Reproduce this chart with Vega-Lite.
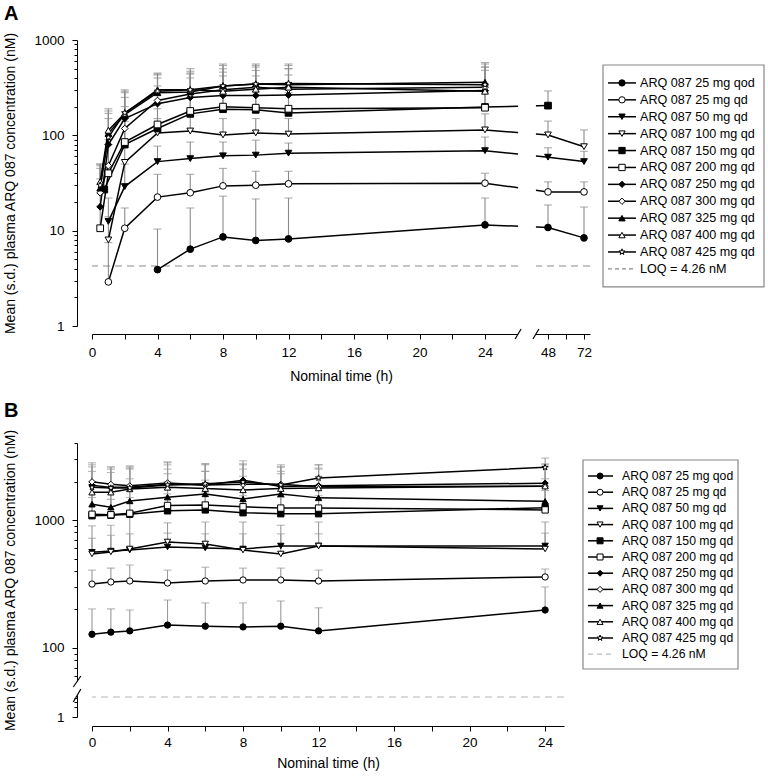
{
"$schema": "https://vega.github.io/schema/vega-lite/v6.json",
"padding": {"left": 3, "top": 4, "right": 1, "bottom": 2},
"config": {
 "font": "Liberation Sans",
 "view": {"stroke": null},
 "axis": {"labelFont": "Liberation Sans", "titleFont": "Liberation Sans", "labelFontSize": 13.5, "titleFontSize": 14, "titleFontWeight": "normal", "labelColor": "#000", "titleColor": "#000", "domainColor": "#000", "tickColor": "#000", "grid": false, "labelOverlap": false, "labelFlush": false},
 "title": {"font": "Liberation Sans"}
},
"datasets": {
 "leg": [
  {"s": "ARQ 087 25 mg qod", "k": "m", "i": 0}, {"s": "ARQ 087 25 mg qd", "k": "m", "i": 1}, {"s": "ARQ 087 50 mg qd", "k": "m", "i": 2}, {"s": "ARQ 087 100 mg qd", "k": "m", "i": 3}, {"s": "ARQ 087 150 mg qd", "k": "m", "i": 4}, {"s": "ARQ 087 200 mg qd", "k": "m", "i": 5}, {"s": "ARQ 087 250 mg qd", "k": "m", "i": 6}, {"s": "ARQ 087 300 mg qd", "k": "m", "i": 7}, {"s": "ARQ 087 325 mg qd", "k": "m", "i": 8}, {"s": "ARQ 087 400 mg qd", "k": "m", "i": 9}, {"s": "ARQ 087 425 mg qd", "k": "m", "i": 10}, {"s": "LOQ = 4.26 nM", "k": "l", "i": 11}
 ],
 "pk": [
  {"p":"A","s":"ARQ 087 25 mg qod","t":4,"m":3.9,"u":10.4},
  {"p":"A","s":"ARQ 087 25 mg qod","t":6,"m":6.4,"u":17.3},
  {"p":"A","s":"ARQ 087 25 mg qod","t":8,"m":8.6,"u":23},
  {"p":"A","s":"ARQ 087 25 mg qod","t":10,"m":7.9,"u":21.5},
  {"p":"A","s":"ARQ 087 25 mg qod","t":12,"m":8.2,"u":22},
  {"p":"A","s":"ARQ 087 25 mg qod","t":24,"m":11.5,"u":22},
  {"p":"A","s":"ARQ 087 25 mg qod","t":48,"m":10.8,"u":18.6},
  {"p":"A","s":"ARQ 087 25 mg qod","t":72,"m":8.4,"u":17.7},
  {"p":"A","s":"ARQ 087 25 mg qd","t":1,"m":2.9,"u":7.5},
  {"p":"A","s":"ARQ 087 25 mg qd","t":2,"m":10.6,"u":17.3},
  {"p":"A","s":"ARQ 087 25 mg qd","t":4,"m":22.5,"u":39},
  {"p":"A","s":"ARQ 087 25 mg qd","t":6,"m":25,"u":39},
  {"p":"A","s":"ARQ 087 25 mg qd","t":8,"m":29.5,"u":45},
  {"p":"A","s":"ARQ 087 25 mg qd","t":10,"m":30,"u":42},
  {"p":"A","s":"ARQ 087 25 mg qd","t":12,"m":31,"u":42},
  {"p":"A","s":"ARQ 087 25 mg qd","t":24,"m":31.5,"u":40},
  {"p":"A","s":"ARQ 087 25 mg qd","t":48,"m":25.5,"u":32.5},
  {"p":"A","s":"ARQ 087 25 mg qd","t":72,"m":25.5,"u":32.5},
  {"p":"A","s":"ARQ 087 50 mg qd","t":1,"m":12.5,"u":22},
  {"p":"A","s":"ARQ 087 50 mg qd","t":2,"m":29,"u":50},
  {"p":"A","s":"ARQ 087 50 mg qd","t":4,"m":53,"u":77},
  {"p":"A","s":"ARQ 087 50 mg qd","t":6,"m":57,"u":85},
  {"p":"A","s":"ARQ 087 50 mg qd","t":8,"m":61,"u":85},
  {"p":"A","s":"ARQ 087 50 mg qd","t":10,"m":62,"u":89},
  {"p":"A","s":"ARQ 087 50 mg qd","t":12,"m":65,"u":83},
  {"p":"A","s":"ARQ 087 50 mg qd","t":24,"m":69,"u":96},
  {"p":"A","s":"ARQ 087 50 mg qd","t":48,"m":59,"u":74},
  {"p":"A","s":"ARQ 087 50 mg qd","t":72,"m":53,"u":68},
  {"p":"A","s":"ARQ 087 100 mg qd","t":1,"m":8,"u":14},
  {"p":"A","s":"ARQ 087 100 mg qd","t":2,"m":52,"u":90},
  {"p":"A","s":"ARQ 087 100 mg qd","t":4,"m":106,"u":150},
  {"p":"A","s":"ARQ 087 100 mg qd","t":6,"m":111,"u":160},
  {"p":"A","s":"ARQ 087 100 mg qd","t":8,"m":101,"u":150},
  {"p":"A","s":"ARQ 087 100 mg qd","t":10,"m":106,"u":150},
  {"p":"A","s":"ARQ 087 100 mg qd","t":12,"m":103,"u":150},
  {"p":"A","s":"ARQ 087 100 mg qd","t":24,"m":114,"u":168},
  {"p":"A","s":"ARQ 087 100 mg qd","t":48,"m":101,"u":141},
  {"p":"A","s":"ARQ 087 100 mg qd","t":72,"m":76,"u":114},
  {"p":"A","s":"ARQ 087 150 mg qd","t":0.75,"m":27,"u":45},
  {"p":"A","s":"ARQ 087 150 mg qd","t":2,"m":80,"u":140},
  {"p":"A","s":"ARQ 087 150 mg qd","t":4,"m":118,"u":190},
  {"p":"A","s":"ARQ 087 150 mg qd","t":6,"m":168,"u":270},
  {"p":"A","s":"ARQ 087 150 mg qd","t":8,"m":188,"u":290},
  {"p":"A","s":"ARQ 087 150 mg qd","t":10,"m":185,"u":285},
  {"p":"A","s":"ARQ 087 150 mg qd","t":12,"m":172,"u":280},
  {"p":"A","s":"ARQ 087 150 mg qd","t":24,"m":198,"u":280},
  {"p":"A","s":"ARQ 087 150 mg qd","t":48,"m":205,"u":292},
  {"p":"A","s":"ARQ 087 200 mg qd","t":0.5,"m":10.6,"u":18},
  {"p":"A","s":"ARQ 087 200 mg qd","t":1,"m":40,"u":80},
  {"p":"A","s":"ARQ 087 200 mg qd","t":2,"m":85,"u":150},
  {"p":"A","s":"ARQ 087 200 mg qd","t":4,"m":130,"u":220},
  {"p":"A","s":"ARQ 087 200 mg qd","t":6,"m":180,"u":300},
  {"p":"A","s":"ARQ 087 200 mg qd","t":8,"m":200,"u":320},
  {"p":"A","s":"ARQ 087 200 mg qd","t":10,"m":195,"u":310},
  {"p":"A","s":"ARQ 087 200 mg qd","t":12,"m":190,"u":300},
  {"p":"A","s":"ARQ 087 200 mg qd","t":24,"m":195,"u":290},
  {"p":"A","s":"ARQ 087 250 mg qd","t":0.5,"m":17.8,"u":35},
  {"p":"A","s":"ARQ 087 250 mg qd","t":1,"m":80,"u":150},
  {"p":"A","s":"ARQ 087 250 mg qd","t":2,"m":150,"u":250},
  {"p":"A","s":"ARQ 087 250 mg qd","t":4,"m":215,"u":330},
  {"p":"A","s":"ARQ 087 250 mg qd","t":6,"m":250,"u":400},
  {"p":"A","s":"ARQ 087 250 mg qd","t":8,"m":262,"u":420},
  {"p":"A","s":"ARQ 087 250 mg qd","t":10,"m":262,"u":420},
  {"p":"A","s":"ARQ 087 250 mg qd","t":12,"m":265,"u":430},
  {"p":"A","s":"ARQ 087 250 mg qd","t":24,"m":295,"u":480},
  {"p":"A","s":"ARQ 087 300 mg qd","t":0.5,"m":25,"u":45},
  {"p":"A","s":"ARQ 087 300 mg qd","t":1,"m":48,"u":90},
  {"p":"A","s":"ARQ 087 300 mg qd","t":2,"m":118,"u":200},
  {"p":"A","s":"ARQ 087 300 mg qd","t":4,"m":232,"u":400},
  {"p":"A","s":"ARQ 087 300 mg qd","t":6,"m":272,"u":450},
  {"p":"A","s":"ARQ 087 300 mg qd","t":8,"m":300,"u":500},
  {"p":"A","s":"ARQ 087 300 mg qd","t":10,"m":320,"u":520},
  {"p":"A","s":"ARQ 087 300 mg qd","t":12,"m":305,"u":500},
  {"p":"A","s":"ARQ 087 300 mg qd","t":24,"m":320,"u":560},
  {"p":"A","s":"ARQ 087 325 mg qd","t":0.5,"m":28,"u":50},
  {"p":"A","s":"ARQ 087 325 mg qd","t":1,"m":105,"u":180},
  {"p":"A","s":"ARQ 087 325 mg qd","t":2,"m":165,"u":280},
  {"p":"A","s":"ARQ 087 325 mg qd","t":4,"m":280,"u":430},
  {"p":"A","s":"ARQ 087 325 mg qd","t":6,"m":285,"u":440},
  {"p":"A","s":"ARQ 087 325 mg qd","t":8,"m":330,"u":540},
  {"p":"A","s":"ARQ 087 325 mg qd","t":10,"m":345,"u":560},
  {"p":"A","s":"ARQ 087 325 mg qd","t":12,"m":340,"u":540},
  {"p":"A","s":"ARQ 087 325 mg qd","t":24,"m":360,"u":580},
  {"p":"A","s":"ARQ 087 400 mg qd","t":0.5,"m":32.7,"u":50},
  {"p":"A","s":"ARQ 087 400 mg qd","t":1,"m":113,"u":190},
  {"p":"A","s":"ARQ 087 400 mg qd","t":2,"m":170,"u":290},
  {"p":"A","s":"ARQ 087 400 mg qd","t":4,"m":300,"u":440},
  {"p":"A","s":"ARQ 087 400 mg qd","t":6,"m":300,"u":470},
  {"p":"A","s":"ARQ 087 400 mg qd","t":8,"m":290,"u":460},
  {"p":"A","s":"ARQ 087 400 mg qd","t":10,"m":305,"u":480},
  {"p":"A","s":"ARQ 087 400 mg qd","t":12,"m":320,"u":500},
  {"p":"A","s":"ARQ 087 400 mg qd","t":24,"m":290,"u":520},
  {"p":"A","s":"ARQ 087 425 mg qd","t":0.5,"m":30,"u":48},
  {"p":"A","s":"ARQ 087 425 mg qd","t":1,"m":95,"u":170},
  {"p":"A","s":"ARQ 087 425 mg qd","t":2,"m":172,"u":300},
  {"p":"A","s":"ARQ 087 425 mg qd","t":4,"m":290,"u":450},
  {"p":"A","s":"ARQ 087 425 mg qd","t":6,"m":300,"u":500},
  {"p":"A","s":"ARQ 087 425 mg qd","t":8,"m":330,"u":560},
  {"p":"A","s":"ARQ 087 425 mg qd","t":10,"m":345,"u":540},
  {"p":"A","s":"ARQ 087 425 mg qd","t":12,"m":350,"u":560},
  {"p":"A","s":"ARQ 087 425 mg qd","t":24,"m":340,"u":520},

  {"p":"B","s":"ARQ 087 25 mg qod","t":0,"m":128,"u":202},
  {"p":"B","s":"ARQ 087 25 mg qod","t":1,"m":133,"u":202},
  {"p":"B","s":"ARQ 087 25 mg qod","t":2,"m":136,"u":198},
  {"p":"B","s":"ARQ 087 25 mg qod","t":4,"m":151,"u":237},
  {"p":"B","s":"ARQ 087 25 mg qod","t":6,"m":148,"u":225},
  {"p":"B","s":"ARQ 087 25 mg qod","t":8,"m":146,"u":225},
  {"p":"B","s":"ARQ 087 25 mg qod","t":10,"m":148,"u":233},
  {"p":"B","s":"ARQ 087 25 mg qod","t":12,"m":136,"u":206},
  {"p":"B","s":"ARQ 087 25 mg qod","t":24,"m":198,"u":300},
  {"p":"B","s":"ARQ 087 25 mg qd","t":0,"m":316,"u":406},
  {"p":"B","s":"ARQ 087 25 mg qd","t":1,"m":328,"u":421},
  {"p":"B","s":"ARQ 087 25 mg qd","t":2,"m":334,"u":445},
  {"p":"B","s":"ARQ 087 25 mg qd","t":4,"m":322,"u":406},
  {"p":"B","s":"ARQ 087 25 mg qd","t":6,"m":334,"u":428},
  {"p":"B","s":"ARQ 087 25 mg qd","t":8,"m":340,"u":421},
  {"p":"B","s":"ARQ 087 25 mg qd","t":10,"m":340,"u":421},
  {"p":"B","s":"ARQ 087 25 mg qd","t":12,"m":334,"u":406},
  {"p":"B","s":"ARQ 087 25 mg qd","t":24,"m":359,"u":414},
  {"p":"B","s":"ARQ 087 50 mg qd","t":0,"m":560,"u":720},
  {"p":"B","s":"ARQ 087 50 mg qd","t":1,"m":572,"u":760},
  {"p":"B","s":"ARQ 087 50 mg qd","t":2,"m":582,"u":780},
  {"p":"B","s":"ARQ 087 50 mg qd","t":4,"m":616,"u":790},
  {"p":"B","s":"ARQ 087 50 mg qd","t":6,"m":605,"u":780},
  {"p":"B","s":"ARQ 087 50 mg qd","t":8,"m":594,"u":780},
  {"p":"B","s":"ARQ 087 50 mg qd","t":10,"m":627,"u":780},
  {"p":"B","s":"ARQ 087 50 mg qd","t":12,"m":627,"u":780},
  {"p":"B","s":"ARQ 087 50 mg qd","t":24,"m":627,"u":790},
  {"p":"B","s":"ARQ 087 100 mg qd","t":0,"m":543,"u":900},
  {"p":"B","s":"ARQ 087 100 mg qd","t":1,"m":563,"u":910},
  {"p":"B","s":"ARQ 087 100 mg qd","t":2,"m":594,"u":1100},
  {"p":"B","s":"ARQ 087 100 mg qd","t":4,"m":674,"u":950},
  {"p":"B","s":"ARQ 087 100 mg qd","t":6,"m":650,"u":965},
  {"p":"B","s":"ARQ 087 100 mg qd","t":8,"m":582,"u":965},
  {"p":"B","s":"ARQ 087 100 mg qd","t":10,"m":543,"u":910},
  {"p":"B","s":"ARQ 087 100 mg qd","t":12,"m":627,"u":965},
  {"p":"B","s":"ARQ 087 100 mg qd","t":24,"m":594,"u":965},
  {"p":"B","s":"ARQ 087 150 mg qd","t":0,"m":1080,"u":1500},
  {"p":"B","s":"ARQ 087 150 mg qd","t":1,"m":1090,"u":1450},
  {"p":"B","s":"ARQ 087 150 mg qd","t":2,"m":1110,"u":1500},
  {"p":"B","s":"ARQ 087 150 mg qd","t":4,"m":1180,"u":1600},
  {"p":"B","s":"ARQ 087 150 mg qd","t":6,"m":1200,"u":1650},
  {"p":"B","s":"ARQ 087 150 mg qd","t":8,"m":1140,"u":1550},
  {"p":"B","s":"ARQ 087 150 mg qd","t":10,"m":1120,"u":1500},
  {"p":"B","s":"ARQ 087 150 mg qd","t":12,"m":1120,"u":1550},
  {"p":"B","s":"ARQ 087 150 mg qd","t":24,"m":1250,"u":1700},
  {"p":"B","s":"ARQ 087 200 mg qd","t":0,"m":1110,"u":1900},
  {"p":"B","s":"ARQ 087 200 mg qd","t":1,"m":1100,"u":1800},
  {"p":"B","s":"ARQ 087 200 mg qd","t":2,"m":1130,"u":1850},
  {"p":"B","s":"ARQ 087 200 mg qd","t":4,"m":1300,"u":2000},
  {"p":"B","s":"ARQ 087 200 mg qd","t":6,"m":1310,"u":2050},
  {"p":"B","s":"ARQ 087 200 mg qd","t":8,"m":1270,"u":2000},
  {"p":"B","s":"ARQ 087 200 mg qd","t":10,"m":1240,"u":1900},
  {"p":"B","s":"ARQ 087 200 mg qd","t":12,"m":1240,"u":1900},
  {"p":"B","s":"ARQ 087 200 mg qd","t":24,"m":1200,"u":1800},
  {"p":"B","s":"ARQ 087 250 mg qd","t":0,"m":1870,"u":2700},
  {"p":"B","s":"ARQ 087 250 mg qd","t":1,"m":1800,"u":2600},
  {"p":"B","s":"ARQ 087 250 mg qd","t":2,"m":1800,"u":2650},
  {"p":"B","s":"ARQ 087 250 mg qd","t":4,"m":1900,"u":2800},
  {"p":"B","s":"ARQ 087 250 mg qd","t":6,"m":1880,"u":2750},
  {"p":"B","s":"ARQ 087 250 mg qd","t":8,"m":2050,"u":2900},
  {"p":"B","s":"ARQ 087 250 mg qd","t":10,"m":1830,"u":2700},
  {"p":"B","s":"ARQ 087 250 mg qd","t":12,"m":1850,"u":2700},
  {"p":"B","s":"ARQ 087 250 mg qd","t":24,"m":1940,"u":2750},
  {"p":"B","s":"ARQ 087 300 mg qd","t":0,"m":1990,"u":2800},
  {"p":"B","s":"ARQ 087 300 mg qd","t":1,"m":1900,"u":2500},
  {"p":"B","s":"ARQ 087 300 mg qd","t":2,"m":1850,"u":2600},
  {"p":"B","s":"ARQ 087 300 mg qd","t":4,"m":1950,"u":2850},
  {"p":"B","s":"ARQ 087 300 mg qd","t":6,"m":1880,"u":2700},
  {"p":"B","s":"ARQ 087 300 mg qd","t":8,"m":1900,"u":2700},
  {"p":"B","s":"ARQ 087 300 mg qd","t":10,"m":1900,"u":2600},
  {"p":"B","s":"ARQ 087 300 mg qd","t":12,"m":1820,"u":2550},
  {"p":"B","s":"ARQ 087 300 mg qd","t":24,"m":1840,"u":2700},
  {"p":"B","s":"ARQ 087 325 mg qd","t":0,"m":1330,"u":2000},
  {"p":"B","s":"ARQ 087 325 mg qd","t":1,"m":1260,"u":1900},
  {"p":"B","s":"ARQ 087 325 mg qd","t":2,"m":1410,"u":2100},
  {"p":"B","s":"ARQ 087 325 mg qd","t":4,"m":1510,"u":2300},
  {"p":"B","s":"ARQ 087 325 mg qd","t":6,"m":1600,"u":2400},
  {"p":"B","s":"ARQ 087 325 mg qd","t":8,"m":1460,"u":2200},
  {"p":"B","s":"ARQ 087 325 mg qd","t":10,"m":1600,"u":2300},
  {"p":"B","s":"ARQ 087 325 mg qd","t":12,"m":1490,"u":2200},
  {"p":"B","s":"ARQ 087 325 mg qd","t":24,"m":1400,"u":2100},
  {"p":"B","s":"ARQ 087 400 mg qd","t":0,"m":1650,"u":2400},
  {"p":"B","s":"ARQ 087 400 mg qd","t":1,"m":1650,"u":2350},
  {"p":"B","s":"ARQ 087 400 mg qd","t":2,"m":1750,"u":2500},
  {"p":"B","s":"ARQ 087 400 mg qd","t":4,"m":1800,"u":2500},
  {"p":"B","s":"ARQ 087 400 mg qd","t":6,"m":1760,"u":2400},
  {"p":"B","s":"ARQ 087 400 mg qd","t":8,"m":1720,"u":2500},
  {"p":"B","s":"ARQ 087 400 mg qd","t":10,"m":1760,"u":2400},
  {"p":"B","s":"ARQ 087 400 mg qd","t":12,"m":1780,"u":2500},
  {"p":"B","s":"ARQ 087 400 mg qd","t":24,"m":1840,"u":2600},
  {"p":"B","s":"ARQ 087 425 mg qd","t":0,"m":1800,"u":2600},
  {"p":"B","s":"ARQ 087 425 mg qd","t":1,"m":1780,"u":2600},
  {"p":"B","s":"ARQ 087 425 mg qd","t":2,"m":1780,"u":2550},
  {"p":"B","s":"ARQ 087 425 mg qd","t":4,"m":1880,"u":2700},
  {"p":"B","s":"ARQ 087 425 mg qd","t":6,"m":1920,"u":2750},
  {"p":"B","s":"ARQ 087 425 mg qd","t":8,"m":1980,"u":2750},
  {"p":"B","s":"ARQ 087 425 mg qd","t":10,"m":1880,"u":2600},
  {"p":"B","s":"ARQ 087 425 mg qd","t":12,"m":2130,"u":2700},
  {"p":"B","s":"ARQ 087 425 mg qd","t":24,"m":2580,"u":3050}
 ]
},
"spacing": 17,
"vconcat": [
 {
  "title": {"text": "A", "anchor": "start", "fontSize": 20, "fontWeight": "bold", "offset": 8},
  "spacing": 10,
  "hconcat": [
   {
    "width": 498, "height": 286,
    "data": {"name": "pk"},
    "transform": [{"filter": "datum.p == 'A'"}],
    "layer": [
     {"data": {"values": [{}]}, "mark": {"type": "rule", "color": "#8a8a8a", "strokeDash": [7, 5], "strokeWidth": 1.2},
      "encoding": {"y": {"datum": 4.26, "type": "quantitative", "scale": {"type": "log", "domain": [1, 1000], "nice": false}}}},
     {"mark": {"type": "rule", "color": "#8a8a8a", "strokeWidth": 1.1},
      "encoding": {
       "x": {"field": "t", "type": "quantitative", "scale": {"domain": [0, 24, 48, 76], "range": [0, 393, 456, 498], "nice": false, "zero": false}},
       "y": {"field": "m", "type": "quantitative", "scale": {"type": "log", "domain": [1, 1000], "nice": false}},
       "y2": {"field": "u"}}},
     {"mark": {"type": "tick", "orient": "horizontal", "color": "#8a8a8a", "thickness": 1.1, "size": 8},
      "encoding": {
       "x": {"field": "t", "type": "quantitative", "scale": {"domain": [0, 24, 48, 76], "range": [0, 393, 456, 498], "nice": false, "zero": false}},
       "y": {"field": "u", "type": "quantitative", "scale": {"type": "log", "domain": [1, 1000], "nice": false}}}},
     {"mark": {"type": "line", "color": "#000", "strokeWidth": 1.5},
      "encoding": {
       "x": {"field": "t", "type": "quantitative", "scale": {"domain": [0, 24, 48, 76], "range": [0, 393, 456, 498], "nice": false, "zero": false},
        "axis": {"title": "Nominal time (h)", "values": [0,2,4,6,8,10,12,14,16,18,20,22,24,48,60,72], "tickCount": 100, "format": "d", "labelExpr": "(datum.value <= 24 && datum.value % 4 == 0) || datum.value == 48 || datum.value == 72 ? datum.label : ''", "offset": 8, "tickSize": 5, "labelPadding": 6, "titlePadding": 11}},
       "y": {"field": "m", "type": "quantitative", "scale": {"type": "log", "domain": [1, 1000], "nice": false},
        "axis": {"title": "Mean (s.d.) plasma ARQ 087 concentration (nM)", "values": [1,2,3,4,5,6,7,8,9,10,20,30,40,50,60,70,80,90,100,200,300,400,500,600,700,800,900,1000], "tickCount": 100, "format": "d", "labelExpr": "datum.value == 1 || datum.value == 10 || datum.value == 100 || datum.value == 1000 ? datum.label : ''", "offset": 15, "tickSize": {"condition": {"test": "datum.value == 1 || datum.value == 10 || datum.value == 100 || datum.value == 1000", "value": 5}, "value": 3}, "labelPadding": 8, "titlePadding": 16}},
       "detail": {"field": "s"}}},
     {"mark": {"type": "point", "filled": true, "stroke": "#000", "strokeWidth": 1, "size": 45, "opacity": 1},
      "encoding": {
       "x": {"field": "t", "type": "quantitative", "scale": {"domain": [0, 24, 48, 76], "range": [0, 393, 456, 498], "nice": false, "zero": false}},
       "y": {"field": "m", "type": "quantitative", "scale": {"type": "log", "domain": [1, 1000], "nice": false}},
       "shape": {"field": "s", "type": "nominal", "legend": null, "scale": {"domain": ["ARQ 087 25 mg qod","ARQ 087 25 mg qd","ARQ 087 50 mg qd","ARQ 087 100 mg qd","ARQ 087 150 mg qd","ARQ 087 200 mg qd","ARQ 087 250 mg qd","ARQ 087 300 mg qd","ARQ 087 325 mg qd","ARQ 087 400 mg qd","ARQ 087 425 mg qd"], "range": ["circle","circle","triangle-down","triangle-down","square","square","diamond","diamond","triangle-up","triangle-up","M0,-1L0.235,-0.324L0.951,-0.309L0.38,0.124L0.588,0.809L0,0.4L-0.588,0.809L-0.38,0.124L-0.951,-0.309L-0.235,-0.324Z"]}},
       "fill": {"field": "s", "type": "nominal", "legend": null, "scale": {"domain": ["ARQ 087 25 mg qod","ARQ 087 25 mg qd","ARQ 087 50 mg qd","ARQ 087 100 mg qd","ARQ 087 150 mg qd","ARQ 087 200 mg qd","ARQ 087 250 mg qd","ARQ 087 300 mg qd","ARQ 087 325 mg qd","ARQ 087 400 mg qd","ARQ 087 425 mg qd"], "range": ["#000","#fff","#000","#fff","#000","#fff","#000","#fff","#000","#fff","#fff"]}}}},
     {"data": {"values": [{}]}, "mark": {"type": "rect", "color": "#fff"},
      "encoding": {
       "x": {"datum": 36.6, "type": "quantitative", "scale": {"domain": [0, 24, 48, 76], "range": [0, 393, 456, 498], "nice": false, "zero": false}},
       "x2": {"datum": 43.4}}},
     {"data": {"values": [{}]}, "mark": {"type": "rule", "color": "#fff", "strokeWidth": 4},
      "encoding": {
       "x": {"datum": 36.6, "type": "quantitative", "scale": {"domain": [0, 24, 48, 76], "range": [0, 393, 456, 498], "nice": false, "zero": false}},
       "x2": {"datum": 43.4},
       "y": {"datum": 0.824, "type": "quantitative", "scale": {"type": "log", "domain": [1, 1000], "nice": false}}}},
     {"data": {"values": [{}]}, "mark": {"type": "rule", "color": "#000", "strokeWidth": 1.2},
      "encoding": {
       "x": {"datum": 35.46, "type": "quantitative", "scale": {"domain": [0, 24, 48, 76], "range": [0, 393, 456, 498], "nice": false, "zero": false}},
       "x2": {"datum": 37.74},
       "y": {"datum": 0.73, "type": "quantitative", "scale": {"type": "log", "domain": [1, 1000], "nice": false}},
       "y2": {"datum": 0.93}}},
     {"data": {"values": [{}]}, "mark": {"type": "rule", "color": "#000", "strokeWidth": 1.2},
      "encoding": {
       "x": {"datum": 42.26, "type": "quantitative", "scale": {"domain": [0, 24, 48, 76], "range": [0, 393, 456, 498], "nice": false, "zero": false}},
       "x2": {"datum": 44.54},
       "y": {"datum": 0.73, "type": "quantitative", "scale": {"type": "log", "domain": [1, 1000], "nice": false}},
       "y2": {"datum": 0.93}}}
    ]
   },
   {
    "width": 161, "height": 286,
    "data": {"name": "leg"},
    "layer": [
     {"data": {"values": [{}]}, "mark": {"type": "rect", "filled": false, "stroke": "#888", "strokeWidth": 1.2},
      "encoding": {
       "x": {"datum": 0, "type": "quantitative", "scale": {"domain": [0, 100], "nice": false, "zero": false}, "axis": null},
       "x2": {"datum": 100},
       "y": {"datum": -1.06, "type": "quantitative", "scale": {"domain": [-2.54, 14.38], "reverse": true, "nice": false, "zero": false}, "axis": null},
       "y2": {"datum": 12.07}}},
     {"transform": [{"filter": "datum.k == 'm'"}], "mark": {"type": "rule", "color": "#000", "strokeWidth": 1.5},
      "encoding": {
       "x": {"datum": 3.1, "type": "quantitative", "scale": {"domain": [0, 100], "nice": false, "zero": false}, "axis": null},
       "x2": {"datum": 20.5},
       "y": {"field": "i", "type": "quantitative", "scale": {"domain": [-2.54, 14.38], "reverse": true, "nice": false, "zero": false}, "axis": null}}},
     {"transform": [{"filter": "datum.k == 'l'"}], "mark": {"type": "rule", "color": "#8a8a8a", "strokeWidth": 1.2, "strokeDash": [4, 3]},
      "encoding": {
       "x": {"datum": 3.1, "type": "quantitative", "scale": {"domain": [0, 100], "nice": false, "zero": false}, "axis": null},
       "x2": {"datum": 20.5},
       "y": {"field": "i", "type": "quantitative", "scale": {"domain": [-2.54, 14.38], "reverse": true, "nice": false, "zero": false}, "axis": null}}},
     {"transform": [{"filter": "datum.k == 'm'"}], "mark": {"type": "point", "filled": true, "stroke": "#000", "strokeWidth": 1, "size": 40, "opacity": 1},
      "encoding": {
       "x": {"datum": 11.8, "type": "quantitative", "scale": {"domain": [0, 100], "nice": false, "zero": false}, "axis": null},
       "y": {"field": "i", "type": "quantitative", "scale": {"domain": [-2.54, 14.38], "reverse": true, "nice": false, "zero": false}, "axis": null},
       "shape": {"field": "s", "type": "nominal", "legend": null, "scale": {"domain": ["ARQ 087 25 mg qod","ARQ 087 25 mg qd","ARQ 087 50 mg qd","ARQ 087 100 mg qd","ARQ 087 150 mg qd","ARQ 087 200 mg qd","ARQ 087 250 mg qd","ARQ 087 300 mg qd","ARQ 087 325 mg qd","ARQ 087 400 mg qd","ARQ 087 425 mg qd"], "range": ["circle","circle","triangle-down","triangle-down","square","square","diamond","diamond","triangle-up","triangle-up","M0,-1L0.235,-0.324L0.951,-0.309L0.38,0.124L0.588,0.809L0,0.4L-0.588,0.809L-0.38,0.124L-0.951,-0.309L-0.235,-0.324Z"]}},
       "fill": {"field": "s", "type": "nominal", "legend": null, "scale": {"domain": ["ARQ 087 25 mg qod","ARQ 087 25 mg qd","ARQ 087 50 mg qd","ARQ 087 100 mg qd","ARQ 087 150 mg qd","ARQ 087 200 mg qd","ARQ 087 250 mg qd","ARQ 087 300 mg qd","ARQ 087 325 mg qd","ARQ 087 400 mg qd","ARQ 087 425 mg qd"], "range": ["#000","#fff","#000","#fff","#000","#fff","#000","#fff","#000","#fff","#fff"]}}}},
     {"mark": {"type": "text", "align": "left", "baseline": "middle", "fontSize": 12.6, "font": "Liberation Sans", "color": "#000"},
      "encoding": {
       "x": {"datum": 23, "type": "quantitative", "scale": {"domain": [0, 100], "nice": false, "zero": false}, "axis": null},
       "y": {"field": "i", "type": "quantitative", "scale": {"domain": [-2.54, 14.38], "reverse": true, "nice": false, "zero": false}, "axis": null},
       "text": {"field": "s"}}}
    ]
   }
  ]
 },
 {
  "title": {"text": "B", "anchor": "start", "fontSize": 20, "fontWeight": "bold", "offset": 8},
  "spacing": 17,
  "hconcat": [
   {
    "width": 472, "height": 274,
    "data": {"name": "pk"},
    "transform": [{"filter": "datum.p == 'B'"}],
    "layer": [
     {"data": {"values": [{}]}, "mark": {"type": "rule", "color": "#b5b5b5", "strokeDash": [7, 5], "strokeWidth": 1.2},
      "encoding": {"y": {"datum": 4.26, "type": "quantitative", "scale": {"type": "log", "domain": [1, 5, 55, 4000], "range": [274, 251.8, 238.2, 0], "nice": false}}}},
     {"mark": {"type": "rule", "color": "#999", "strokeWidth": 1.1},
      "encoding": {
       "x": {"field": "t", "type": "quantitative", "scale": {"domain": [0, 25], "nice": false, "zero": false}},
       "y": {"field": "m", "type": "quantitative", "scale": {"type": "log", "domain": [1, 5, 55, 4000], "range": [274, 251.8, 238.2, 0], "nice": false}},
       "y2": {"field": "u"}}},
     {"mark": {"type": "tick", "orient": "horizontal", "color": "#999", "thickness": 1.1, "size": 8},
      "encoding": {
       "x": {"field": "t", "type": "quantitative", "scale": {"domain": [0, 25], "nice": false, "zero": false}},
       "y": {"field": "u", "type": "quantitative", "scale": {"type": "log", "domain": [1, 5, 55, 4000], "range": [274, 251.8, 238.2, 0], "nice": false}}}},
     {"mark": {"type": "line", "color": "#000", "strokeWidth": 1.5},
      "encoding": {
       "x": {"field": "t", "type": "quantitative", "scale": {"domain": [0, 25], "nice": false, "zero": false},
        "axis": {"title": "Nominal time (h)", "values": [0,2,4,6,8,10,12,14,16,18,20,22,24], "tickCount": 100, "format": "d", "labelExpr": "datum.value % 4 == 0 ? datum.label : ''", "offset": 9, "tickSize": 5, "labelPadding": 4, "titlePadding": 8}},
       "y": {"field": "m", "type": "quantitative", "scale": {"type": "log", "domain": [1, 5, 55, 4000], "range": [274, 251.8, 238.2, 0], "nice": false},
        "axis": {"title": "Mean (s.d.) plasma ARQ 087 concentration (nM)", "values": [1,2,3,4,60,70,80,90,100,200,300,400,500,600,700,800,900,1000,2000,3000,4000], "tickCount": 100, "format": "d", "labelExpr": "datum.value == 1 || datum.value == 100 || datum.value == 1000 ? datum.label : ''", "offset": 15, "tickSize": {"condition": {"test": "datum.value == 1 || datum.value == 100 || datum.value == 1000", "value": 5}, "value": 3}, "labelPadding": 8, "titlePadding": 16}},
       "detail": {"field": "s"}}},
     {"mark": {"type": "point", "filled": true, "stroke": "#000", "strokeWidth": 1, "size": 40, "opacity": 1},
      "encoding": {
       "x": {"field": "t", "type": "quantitative", "scale": {"domain": [0, 25], "nice": false, "zero": false}},
       "y": {"field": "m", "type": "quantitative", "scale": {"type": "log", "domain": [1, 5, 55, 4000], "range": [274, 251.8, 238.2, 0], "nice": false}},
       "shape": {"field": "s", "type": "nominal", "legend": null, "scale": {"domain": ["ARQ 087 25 mg qod","ARQ 087 25 mg qd","ARQ 087 50 mg qd","ARQ 087 100 mg qd","ARQ 087 150 mg qd","ARQ 087 200 mg qd","ARQ 087 250 mg qd","ARQ 087 300 mg qd","ARQ 087 325 mg qd","ARQ 087 400 mg qd","ARQ 087 425 mg qd"], "range": ["circle","circle","triangle-down","triangle-down","square","square","diamond","diamond","triangle-up","triangle-up","M0,-1L0.235,-0.324L0.951,-0.309L0.38,0.124L0.588,0.809L0,0.4L-0.588,0.809L-0.38,0.124L-0.951,-0.309L-0.235,-0.324Z"]}},
       "fill": {"field": "s", "type": "nominal", "legend": null, "scale": {"domain": ["ARQ 087 25 mg qod","ARQ 087 25 mg qd","ARQ 087 50 mg qd","ARQ 087 100 mg qd","ARQ 087 150 mg qd","ARQ 087 200 mg qd","ARQ 087 250 mg qd","ARQ 087 300 mg qd","ARQ 087 325 mg qd","ARQ 087 400 mg qd","ARQ 087 425 mg qd"], "range": ["#000","#fff","#000","#fff","#000","#fff","#000","#fff","#000","#fff","#fff"]}}}},
     {"data": {"values": [{}]}, "mark": {"type": "rule", "color": "#fff", "strokeWidth": 4},
      "encoding": {
       "x": {"datum": -0.794, "type": "quantitative", "scale": {"domain": [0, 25], "nice": false, "zero": false}},
       "y": {"datum": 4.74, "type": "quantitative", "scale": {"type": "log", "domain": [1, 5, 55, 4000], "range": [274, 251.8, 238.2, 0], "nice": false}},
       "y2": {"datum": 52}}},
     {"data": {"values": [{}]}, "mark": {"type": "rule", "color": "#000", "strokeWidth": 1.2},
      "encoding": {
       "x": {"datum": -0.99, "type": "quantitative", "scale": {"domain": [0, 25], "nice": false, "zero": false}},
       "x2": {"datum": -0.59},
       "y": {"datum": 19.8, "type": "quantitative", "scale": {"type": "log", "domain": [1, 5, 55, 4000], "range": [274, 251.8, 238.2, 0], "nice": false}},
       "y2": {"datum": 60.4}}},
     {"data": {"values": [{}]}, "mark": {"type": "rule", "color": "#000", "strokeWidth": 1.2},
      "encoding": {
       "x": {"datum": -0.99, "type": "quantitative", "scale": {"domain": [0, 25], "nice": false, "zero": false}},
       "x2": {"datum": -0.59},
       "y": {"datum": 2.96, "type": "quantitative", "scale": {"type": "log", "domain": [1, 5, 55, 4000], "range": [274, 251.8, 238.2, 0], "nice": false}},
       "y2": {"datum": 13.9}}}
    ]
   },
   {
    "width": 155, "height": 274,
    "data": {"name": "leg"},
    "layer": [
     {"data": {"values": [{}]}, "mark": {"type": "rect", "filled": false, "stroke": "#888", "strokeWidth": 1.2},
      "encoding": {
       "x": {"datum": 0, "type": "quantitative", "scale": {"domain": [0, 100], "nice": false, "zero": false}, "axis": null},
       "x2": {"datum": 100},
       "y": {"datum": -0.988, "type": "quantitative", "scale": {"domain": [-2.037, 14.877], "reverse": true, "nice": false, "zero": false}, "axis": null},
       "y2": {"datum": 11.914}}},
     {"transform": [{"filter": "datum.k == 'm'"}], "mark": {"type": "rule", "color": "#000", "strokeWidth": 1.5},
      "encoding": {
       "x": {"datum": 3.2, "type": "quantitative", "scale": {"domain": [0, 100], "nice": false, "zero": false}, "axis": null},
       "x2": {"datum": 19.4},
       "y": {"field": "i", "type": "quantitative", "scale": {"domain": [-2.037, 14.877], "reverse": true, "nice": false, "zero": false}, "axis": null}}},
     {"transform": [{"filter": "datum.k == 'l'"}], "mark": {"type": "rule", "color": "#bbb", "strokeWidth": 1.2, "strokeDash": [5, 4]},
      "encoding": {
       "x": {"datum": 3.2, "type": "quantitative", "scale": {"domain": [0, 100], "nice": false, "zero": false}, "axis": null},
       "x2": {"datum": 19.4},
       "y": {"field": "i", "type": "quantitative", "scale": {"domain": [-2.037, 14.877], "reverse": true, "nice": false, "zero": false}, "axis": null}}},
     {"transform": [{"filter": "datum.k == 'm'"}], "mark": {"type": "point", "filled": true, "stroke": "#000", "strokeWidth": 1, "size": 36, "opacity": 1},
      "encoding": {
       "x": {"datum": 11, "type": "quantitative", "scale": {"domain": [0, 100], "nice": false, "zero": false}, "axis": null},
       "y": {"field": "i", "type": "quantitative", "scale": {"domain": [-2.037, 14.877], "reverse": true, "nice": false, "zero": false}, "axis": null},
       "shape": {"field": "s", "type": "nominal", "legend": null, "scale": {"domain": ["ARQ 087 25 mg qod","ARQ 087 25 mg qd","ARQ 087 50 mg qd","ARQ 087 100 mg qd","ARQ 087 150 mg qd","ARQ 087 200 mg qd","ARQ 087 250 mg qd","ARQ 087 300 mg qd","ARQ 087 325 mg qd","ARQ 087 400 mg qd","ARQ 087 425 mg qd"], "range": ["circle","circle","triangle-down","triangle-down","square","square","diamond","diamond","triangle-up","triangle-up","M0,-1L0.235,-0.324L0.951,-0.309L0.38,0.124L0.588,0.809L0,0.4L-0.588,0.809L-0.38,0.124L-0.951,-0.309L-0.235,-0.324Z"]}},
       "fill": {"field": "s", "type": "nominal", "legend": null, "scale": {"domain": ["ARQ 087 25 mg qod","ARQ 087 25 mg qd","ARQ 087 50 mg qd","ARQ 087 100 mg qd","ARQ 087 150 mg qd","ARQ 087 200 mg qd","ARQ 087 250 mg qd","ARQ 087 300 mg qd","ARQ 087 325 mg qd","ARQ 087 400 mg qd","ARQ 087 425 mg qd"], "range": ["#000","#fff","#000","#fff","#000","#fff","#000","#fff","#000","#fff","#fff"]}}}},
     {"mark": {"type": "text", "align": "left", "baseline": "middle", "fontSize": 12.2, "font": "Liberation Sans", "color": "#000"},
      "encoding": {
       "x": {"datum": 25.2, "type": "quantitative", "scale": {"domain": [0, 100], "nice": false, "zero": false}, "axis": null},
       "y": {"field": "i", "type": "quantitative", "scale": {"domain": [-2.037, 14.877], "reverse": true, "nice": false, "zero": false}, "axis": null},
       "text": {"field": "s"}}}
    ]
   }
  ]
 }
]
}
